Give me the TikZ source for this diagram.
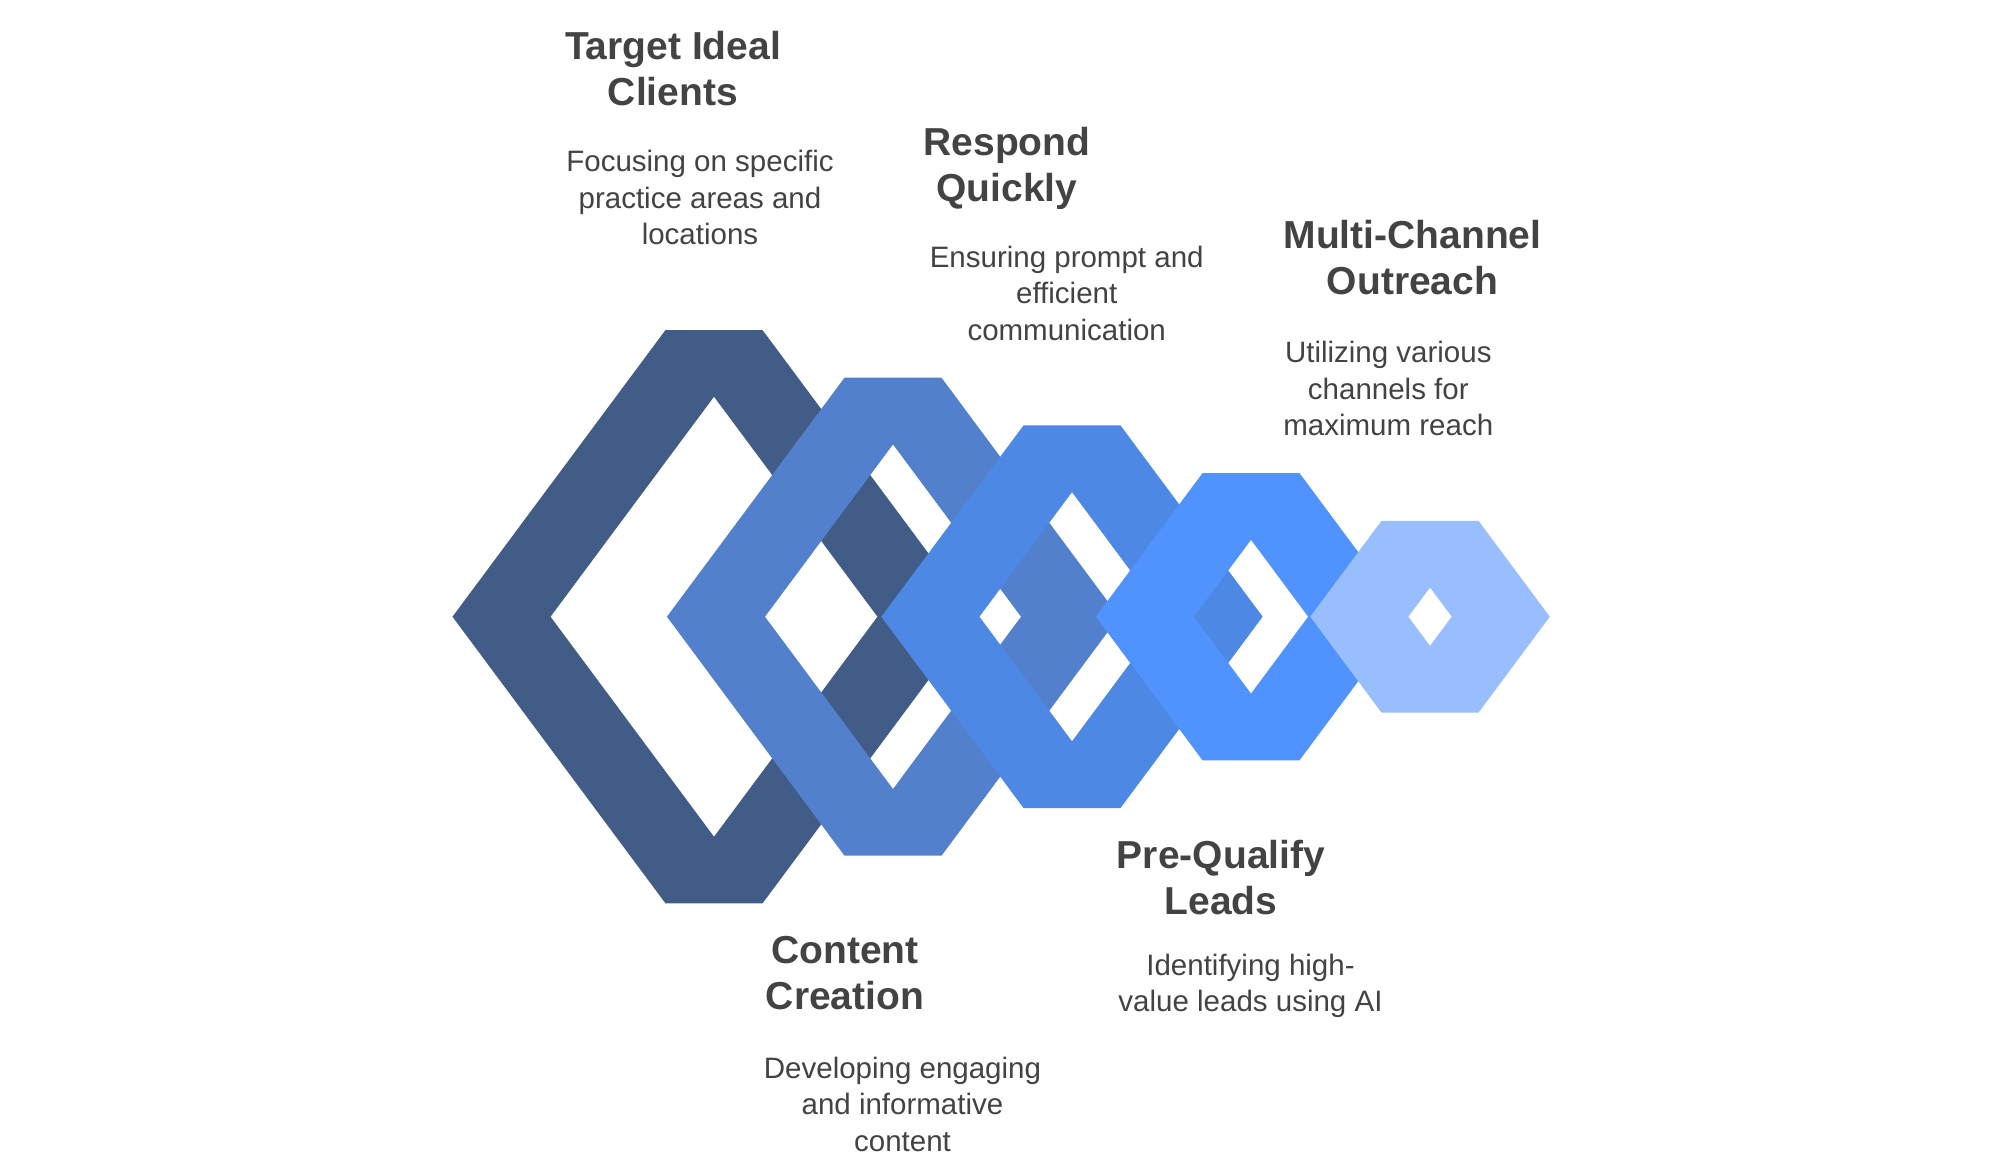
\documentclass[tikz,border=0pt]{standalone}
\usepackage{fontspec}
\setmainfont{Liberation Sans}
\definecolor{hexA}{HTML}{415D87}
\definecolor{hexB}{HTML}{5280CC}
\definecolor{hexC}{HTML}{4C88E4}
\definecolor{hexD}{HTML}{5092FE}
\definecolor{hexE}{HTML}{99BEFE}
\definecolor{txtgray}{HTML}{434343}
% #1 = centre x, #2 = half height, #3 = colour
\newcommand{\hexring}[3]{%
  \fill[#3, even odd rule]
    ({#1-48.5},{616.7-#2}) -- ({#1+48.5},{616.7-#2}) -- ({#1+48.5+0.743*#2},616.7)
    -- ({#1+48.5},{616.7+#2}) -- ({#1-48.5},{616.7+#2}) -- ({#1-48.5-0.743*#2},616.7) -- cycle
    ({#1},{616.7-(#2-66.7)}) -- ({#1+0.743*(#2-66.7)},616.7)
    -- ({#1},{616.7+(#2-66.7)}) -- ({#1-0.743*(#2-66.7)},616.7) -- cycle;}
\newcommand{\stk}[1]{\begin{tabular}[t]{@{}c@{}}#1\end{tabular}}
\begin{document}
\begin{tikzpicture}[x=1pt,y=-1pt,
  ttl/.style={anchor=base, inner sep=0pt, text=txtgray, font=\bfseries\fontsize{39}{46.2}\selectfont},
  bdy/.style={anchor=base, inner sep=0pt, text=txtgray, font=\fontsize{29.5}{36.6}\selectfont}]
\fill[white] (0,0) rectangle (2000,1168);
\useasboundingbox (0,0) rectangle (2000,1168);
\hexring{714}{286.7}{hexA}
\hexring{893}{239}{hexB}
\hexring{1072}{191.3}{hexC}
\hexring{1251}{143.6}{hexD}
\hexring{1430}{95.9}{hexE}
\node[ttl] (t1) at (673,59.3) {\stk{Target Ideal\\Clients}};
\node[bdy] (b1) at (700,171.7) {\stk{Focusing on specific\\practice areas and\\locations}};
\node[ttl] (t2) at (1007,155) {\stk{Respond\\Quickly}};
\node[bdy] (b2) at (1066.7,267.3) {\stk{Ensuring prompt and\\efficient\\communication}};
\node[ttl] (t3) at (1412.5,248.3) {\stk{Multi-Channel\\Outreach}};
\node[bdy] (b3) at (1388.3,362.7) {\stk{Utilizing various\\channels for\\maximum reach}};
\node[ttl] (t4) at (1221,868.3) {\stk{Pre-Qualify\\Leads}};
\node[bdy] (b4) at (1250.5,975) {\stk{Identifying high-\\value leads using AI}};
\node[ttl] (t5) at (845,963.3) {\stk{Content\\Creation}};
\node[bdy] (b5) at (902.5,1078.3) {\stk{Developing engaging\\and informative\\content}};
\end{tikzpicture}
\end{document}
